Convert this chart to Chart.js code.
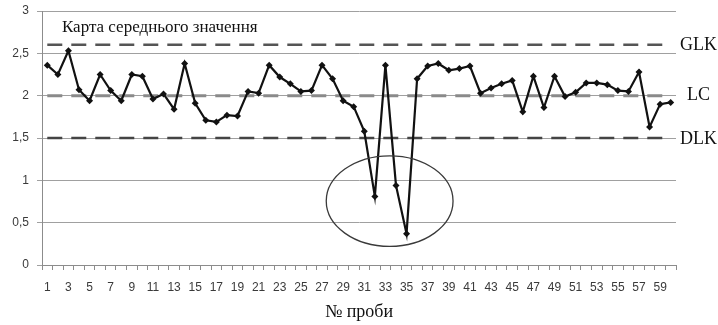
<!DOCTYPE html>
<html>
<head>
<meta charset="utf-8">
<script src="https://cdn.jsdelivr.net/npm/chart.js@4/dist/chart.umd.min.js"></script>
<style>
  html, body { margin: 0; padding: 0; background: #fff; }
  #wrap { width: 718px; height: 325px; }
</style>
</head>
<body>
<div id="wrap"><canvas id="c" width="718" height="325"></canvas></div>
<script>
// Sample numbers along the x axis
const samples = [1,2,3,4,5,6,7,8,9,10,11,12,13,14,15,16,17,18,19,20,
                 21,22,23,24,25,26,27,28,29,30,31,32,33,34,35,36,37,38,39,40,
                 41,42,43,44,45,46,47,48,49,50,51,52,53,54,55,56,57,58,59,60];

// Mean value of each sample
const means = [2.36,2.25,2.53,2.07,1.94,2.25,2.06,1.94,2.25,2.23,
               1.96,2.02,1.84,2.38,1.91,1.71,1.69,1.77,1.76,2.05,
               2.03,2.36,2.22,2.14,2.05,2.06,2.36,2.20,1.94,1.87,
               1.58,0.81,2.36,0.94,0.37,2.20,2.35,2.38,2.30,2.32,
               2.35,2.03,2.09,2.14,2.18,1.81,2.23,1.86,2.23,1.99,
               2.04,2.15,2.15,2.13,2.06,2.05,2.28,1.63,1.90,1.92];

// Control limits
const upperLimit = 2.6;   // GLK
const centerLine = 2.0;   // LC
const lowerLimit = 1.5;   // DLK

// Y axis ticks
const yTicks = [0, 0.5, 1, 1.5, 2, 2.5, 3];

// Out-of-control region outlined by an ellipse (category index / value bounds)
const outlierBox = { xFrom: 26.4, xTo: 38.4, yFrom: 0.22, yTo: 1.29 };

const SERIF = '"Liberation Serif", "DejaVu Serif", serif';
const SANS = '"Liberation Sans", Arial, sans-serif';

const fmt = v => String(v).replace('.', ',');

const annotations = {
  id: 'annotations',
  afterDatasetsDraw(chart) {
    const { ctx, chartArea, scales: { x, y } } = chart;
    ctx.save();
    // ellipse around the outlying samples
    const l = x.getPixelForValue(outlierBox.xFrom);
    const r = x.getPixelForValue(outlierBox.xTo);
    const t = y.getPixelForValue(outlierBox.yTo);
    const b = y.getPixelForValue(outlierBox.yFrom);
    ctx.beginPath();
    ctx.ellipse((l + r) / 2, (t + b) / 2, (r - l) / 2, (b - t) / 2, 0, 0, Math.PI * 2);
    ctx.strokeStyle = '#3a3a3a';
    ctx.lineWidth = 1.3;
    ctx.stroke();

    // chart heading
    ctx.fillStyle = '#111';
    ctx.font = '17px ' + SERIF;
    ctx.textAlign = 'left';
    ctx.textBaseline = 'middle';
    ctx.fillText('Карта середнього значення', chartArea.left + 20, y.getPixelForValue(2.8));

    // limit labels on the right
    ctx.font = '18px ' + SERIF;
    const lx = chartArea.right + 4;
    ctx.fillText('GLK', lx, y.getPixelForValue(upperLimit));
    ctx.fillText('LC', lx + 7, y.getPixelForValue(centerLine));
    ctx.fillText('DLK', lx, y.getPixelForValue(lowerLimit) + 1);
    ctx.restore();
  }
};

const limitSet = (label, value, color, width) => ({
  label,
  data: samples.map(() => value),
  borderColor: color,
  borderWidth: width,
  borderDash: [15, 9],
  pointRadius: 0,
  fill: false,
  order: 2
});

new Chart(document.getElementById('c'), {
  type: 'line',
  data: {
    labels: samples,
    datasets: [
      {
        label: 'means',
        data: means,
        borderColor: '#111',
        backgroundColor: '#111',
        borderWidth: 2.2,
        pointStyle: 'rectRot',
        pointRadius: 3.5,
        pointBorderWidth: 0,
        tension: 0,
        order: 1
      },
      limitSet('GLK', upperLimit, '#555', 2.5),
      limitSet('LC', centerLine, '#8a8a8a', 3),
      limitSet('DLK', lowerLimit, '#444', 2.5)
    ]
  },
  options: {
    responsive: false,
    animation: false,
    layout: { padding: { left: 0, right: 42, top: 11, bottom: 0 } },
    plugins: { legend: { display: false }, tooltip: { enabled: false } },
    scales: {
      x: {
        type: 'category',
        offset: true,
        afterFit(s) { s.height = 60; s.paddingLeft = 0; s.paddingRight = 0; },
        grid: {
          offset: true,
          drawOnChartArea: false,
          drawTicks: true,
          tickLength: 5,
          color: '#8c8c8c'
        },
        border: { color: '#8c8c8c', width: 1 },
        ticks: {
          autoSkip: false,
          maxRotation: 0,
          padding: 10,
          color: '#3a3a3a',
          font: { family: SANS, size: 12 },
          callback: (v, i) => (i % 2 === 0 ? String(samples[i]) : '')
        },
        title: {
          display: true,
          text: '№ проби',
          color: '#111',
          font: { family: SERIF, size: 18 },
          padding: { top: 0, bottom: 2 }
        }
      },
      y: {
        min: 0,
        max: 3,
        afterFit(s) { s.width = 42; s.paddingTop = 0; s.paddingBottom = 0; },
        afterBuildTicks(s) { s.ticks = yTicks.map(v => ({ value: v })); },
        grid: {
          color: '#a0a0a0',
          lineWidth: 1,
          drawTicks: true,
          tickLength: 5
        },
        border: { color: '#8c8c8c', width: 1 },
        ticks: {
          padding: 8,
          color: '#3a3a3a',
          font: { family: SANS, size: 12 },
          callback: v => fmt(v)
        }
      }
    }
  },
  plugins: [annotations]
});
</script>
</body>
</html>
